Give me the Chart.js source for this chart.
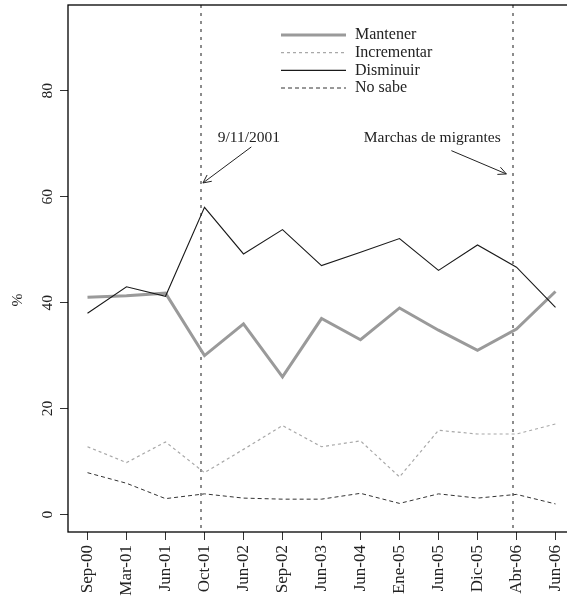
<!DOCTYPE html>
<html>
<head>
<meta charset="utf-8">
<script src="https://cdn.jsdelivr.net/npm/chart.js@4"></script>
<style>
  html, body { margin: 0; padding: 0; overflow: hidden; background: #fff; }
  canvas { display: block; }
</style>
</head>
<body>
<canvas id="opinion" width="575" height="601"></canvas>
<script>
var categories = ["Sep-00", "Mar-01", "Jun-01", "Oct-01", "Jun-02", "Sep-02", "Jun-03", "Jun-04", "Ene-05", "Jun-05", "Dic-05", "Abr-06", "Jun-06"];
var mantener = [41, 41.3, 41.8, 30, 36, 26, 37, 33, 39, 34.8, 31, 35, 42.1];
var incrementar = [12.8, 9.8, 13.7, 7.9, 12.3, 16.8, 12.8, 13.9, 7.1, 15.9, 15.2, 15.2, 17.1];
var disminuir = [38, 43, 41.2, 58, 49.2, 53.8, 47, 49.5, 52.1, 46.1, 50.9, 46.7, 39.1];
var noSabe = [7.9, 5.9, 3, 3.9, 3.1, 2.9, 2.9, 4, 2.1, 3.9, 3.1, 3.8, 2];
var yTicks = [0, 20, 40, 60, 80];

// vertical event lines (category index) and their notes
var eventIndex = [2.91, 10.91];
var noteText = ["9/11/2001", "Marchas de migrantes"];
var noteAt = [[4.14, 71.1], [8.84, 71.1]];
var arrowFrom = [[4.2, 69.4], [9.33, 68.7]];
var arrowTo = [[2.96, 62.6], [10.74, 64.3]];

var serif = "'Liberation Serif', 'DejaVu Serif', serif";

function arrow(ctx, x1, y1, x2, y2) {
  var ang = Math.atan2(y2 - y1, x2 - x1);
  var len = 9;
  ctx.beginPath();
  ctx.moveTo(x1, y1);
  ctx.lineTo(x2, y2);
  ctx.moveTo(x2 - len * Math.cos(ang - 0.45), y2 - len * Math.sin(ang - 0.45));
  ctx.lineTo(x2, y2);
  ctx.lineTo(x2 - len * Math.cos(ang + 0.45), y2 - len * Math.sin(ang + 0.45));
  ctx.stroke();
}

var extras = {
  id: "extras",
  beforeDatasetsDraw(chart) {
    var ctx = chart.ctx;
    var xs = chart.scales.x;
    var a = chart.chartArea;
    ctx.save();
    ctx.strokeStyle = "#8c8c8c";
    ctx.lineWidth = 2;
    ctx.setLineDash([3, 5]);
    eventIndex.forEach(i => {
      var px = Math.round(xs.getPixelForValue(i));
      ctx.beginPath();
      ctx.moveTo(px, a.top);
      ctx.lineTo(px, a.bottom);
      ctx.stroke();
    });
    ctx.restore();
  },
  afterDraw(chart) {
    var ctx = chart.ctx;
    var xs = chart.scales.x, ys = chart.scales.y;
    var a = chart.chartArea;
    ctx.save();
    // box
    ctx.strokeStyle = "#000";
    ctx.lineWidth = 1.3;
    ctx.strokeRect(a.left, a.top, a.right - a.left, a.bottom - a.top);

    // y tick labels, rotated
    ctx.fillStyle = "#222";
    ctx.font = "15.5px " + serif;
    ctx.textAlign = "center";
    ctx.textBaseline = "middle";
    yTicks.forEach(v => {
      ctx.save();
      ctx.translate(48, ys.getPixelForValue(v));
      ctx.rotate(-Math.PI / 2);
      ctx.fillText(String(v), 0, 0);
      ctx.restore();
    });
    ctx.save();
    ctx.translate(18, 300);
    ctx.rotate(-Math.PI / 2);
    ctx.fillText("%", 0, 0);
    ctx.restore();

    // notes with arrows
    ctx.strokeStyle = "#222";
    ctx.lineWidth = 1;
    noteText.forEach((t, k) => {
      ctx.fillText(t, xs.getPixelForValue(noteAt[k][0]), ys.getPixelForValue(noteAt[k][1]));
      arrow(ctx,
        xs.getPixelForValue(arrowFrom[k][0]), ys.getPixelForValue(arrowFrom[k][1]),
        xs.getPixelForValue(arrowTo[k][0]), ys.getPixelForValue(arrowTo[k][1]));
    });

    // legend
    var rows = [35, 52.7, 70.4, 88];
    ctx.textAlign = "left";
    ctx.font = "16px " + serif;
    chart.data.datasets.forEach((ds, k) => {
      ctx.strokeStyle = ds.borderColor;
      ctx.lineWidth = ds.borderWidth;
      ctx.setLineDash(ds.borderDash || []);
      ctx.beginPath();
      ctx.moveTo(281, rows[k]);
      ctx.lineTo(346, rows[k]);
      ctx.stroke();
      ctx.fillStyle = "#222";
      ctx.fillText(ds.label, 355, rows[k]);
    });
    ctx.restore();
  }
};

new Chart("opinion", {
  type: "line",
  data: {
    labels: categories,
    datasets: [{
      label: "Mantener",
      data: mantener,
      borderColor: "#9a9a9a",
      borderWidth: 3,
      order: 1
    }, {
      label: "Incrementar",
      data: incrementar,
      borderColor: "#a8a8a8",
      borderWidth: 1.2,
      borderDash: [3, 3],
      order: 2
    }, {
      label: "Disminuir",
      data: disminuir,
      borderColor: "#1a1a1a",
      borderWidth: 1.1,
      order: 0
    }, {
      label: "No sabe",
      data: noSabe,
      borderColor: "#333",
      borderWidth: 1,
      borderDash: [4, 3],
      order: 3
    }]
  },
  options: {
    responsive: false,
    animation: false,
    devicePixelRatio: 1,
    layout: { padding: { top: 5, right: 0, bottom: 0, left: 0 } },
    elements: { point: { radius: 0 }, line: { tension: 0 } },
    plugins: { legend: { display: false }, tooltip: { enabled: false } },
    scales: {
      x: {
        offset: true,
        grid: { drawOnChartArea: false, drawTicks: true, tickLength: 8, color: "#333", offset: false },
        border: { display: false },
        ticks: {
          autoSkip: false,
          minRotation: 90,
          maxRotation: 90,
          padding: 5,
          color: "#222",
          font: { family: serif, size: 17 }
        },
        afterFit(scale) {
          scale.height = 69;
          scale.paddingLeft = 0;
          scale.paddingRight = 0;
        }
      },
      y: {
        min: -3.3,
        max: 96.2,
        afterBuildTicks(scale) { scale.ticks = yTicks.map(v => ({ value: v })); },
        grid: { drawOnChartArea: false, drawTicks: true, tickLength: 8, color: "#333" },
        border: { display: false },
        ticks: { display: false },
        afterFit(scale) { scale.width = 68; }
      }
    }
  },
  plugins: [extras]
});
</script>
</body>
</html>
